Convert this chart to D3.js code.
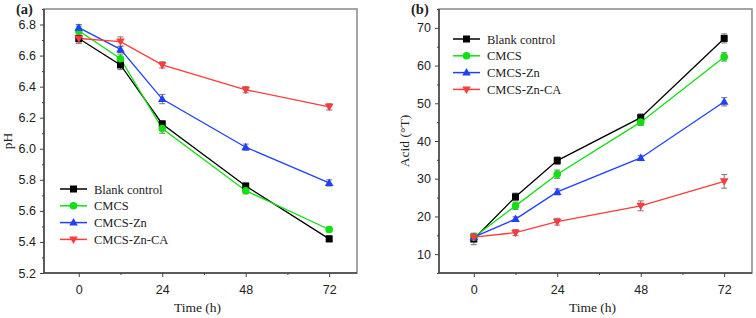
<!DOCTYPE html>
<html>
<head>
<meta charset="utf-8">
<style>
    body { margin: 0; background: #fff; }
    svg { display: block; font-family: 'Liberation Serif', 'Times New Roman', serif; }
    svg text { fill: #222; font-weight: normal; }
    .tick text { font-size: 12.5px; }
    .domain { display: none; }
</style>
</head>
<body>
<svg width="756" height="318"></svg>
<script src="https://d3js.org/d3.v7.min.js"></script>
<script>
    // time points (h)
    let times = [0, 12, 24, 48, 72]
    let seriesNames = ["Blank control", "CMCS", "CMCS-Zn", "CMCS-Zn-CA"]
    let colors = ["#000000", "#10e010", "#2040ff", "#ff3b3b"]
    let shapes = ["square", "circle", "triangle", "down"]

    // panel (a) pH
    let phBlank = [6.71, 6.54, 6.16, 5.76, 5.42]
    let phCMCS = [6.76, 6.58, 6.13, 5.73, 5.48]
    let phZn = [6.78, 6.64, 6.32, 6.01, 5.78]
    let phZnCA = [6.71, 6.69, 6.54, 6.38, 6.27]
    let phErr = [
        [0.03, 0.03, 0.02, 0.02, 0.02],
        [0.03, 0.03, 0.03, 0.02, 0.015],
        [0.02, 0.02, 0.03, 0.02, 0.02],
        [0.03, 0.03, 0.02, 0.02, 0.02]
    ]
    let phTicks = [5.2, 5.4, 5.6, 5.8, 6.0, 6.2, 6.4, 6.6, 6.8]

    // panel (b) acidity (°T)
    let acBlank = [14.0, 25.2, 34.8, 46.2, 67.2]
    let acCMCS = [14.5, 22.8, 31.2, 45.0, 62.3]
    let acZn = [14.5, 19.3, 26.5, 35.5, 50.4]
    let acZnCA = [14.5, 15.7, 18.6, 22.8, 29.3]
    let acErr = [
        [1.5, 1.0, 1.0, 1.0, 1.2],
        [1.0, 1.0, 1.1, 0.9, 1.1],
        [1.0, 0.6, 0.8, 0.7, 1.1],
        [1.0, 0.8, 0.9, 1.3, 1.8]
    ]
    let acTicks = [10, 20, 30, 40, 50, 60, 70]

    let xTicks = [0, 24, 48, 72]
    let xMinor = [12, 36, 60]

    let svg = d3.select("svg")

    function drawPanel(opt) {
        let g = svg.append("g")
        let x = d3.scaleLinear().domain([-10, 80]).range([opt.left, opt.right])
        let y = d3.scaleLinear().domain(opt.yDomain).range([273, 9])

        // frame (top + right lighter)
        g.append("rect")
            .attr("x", opt.left).attr("y", 9)
            .attr("width", opt.right - opt.left).attr("height", 264)
            .attr("fill", "none").attr("stroke", "#888").attr("stroke-width", 1.5)
        g.append("line").attr("x1", opt.left).attr("x2", opt.left).attr("y1", 9).attr("y2", 273)
            .attr("stroke", "#444").attr("stroke-width", 1.5)
        g.append("line").attr("x1", opt.left).attr("x2", opt.right).attr("y1", 273).attr("y2", 273)
            .attr("stroke", "#444").attr("stroke-width", 1.5)

        // axes
        g.append("g").attr("transform", "translate(0,273)")
            .call(d3.axisBottom(x).tickValues(xTicks).tickSize(4).tickPadding(8).tickFormat(d3.format("d")))
        g.append("g").attr("transform", "translate(0,273)")
            .call(d3.axisBottom(x).tickValues(xMinor).tickSize(2).tickFormat(""))
        g.append("g").attr("transform", `translate(${opt.left},0)`)
            .call(d3.axisLeft(y).tickValues(opt.yTicks).tickSize(4).tickPadding(4).tickFormat(opt.fmt))
        g.append("g").attr("transform", `translate(${opt.left},0)`)
            .call(d3.axisLeft(y).tickValues(opt.yMinor).tickSize(2).tickFormat(""))
        g.selectAll(".tick line").attr("stroke", "#444")
        g.selectAll(".tick text").attr("fill", "#222")

        // axis titles
        g.append("text").attr("x", (opt.left + opt.right) / 2 - 3).attr("y", 312)
            .attr("text-anchor", "middle").attr("font-size", 13.5).text("Time (h)")
        g.append("text")
            .attr("transform", `translate(${opt.yLabelX},141) rotate(-90)`)
            .attr("text-anchor", "middle").attr("font-size", 13.5).text(opt.yLabel)
        g.append("text").attr("x", opt.tagX).attr("y", 14)
            .attr("font-size", 14.5).style("font-weight", "bold").text(opt.tag)

        let line = d3.line().x((d, i) => x(times[i])).y(d => y(d))

        opt.series.forEach((vals, s) => {
            // error bars
            let eb = g.append("g")
            vals.forEach((v, i) => {
                let e = opt.err[s][i]
                let cx = x(times[i])
                eb.append("line").attr("x1", cx).attr("x2", cx)
                    .attr("y1", y(v - e)).attr("y2", y(v + e))
                    .attr("stroke", "#777").attr("stroke-width", 1)
                ;[v - e, v + e].forEach(w => {
                    eb.append("line").attr("x1", cx - 3).attr("x2", cx + 3)
                        .attr("y1", y(w)).attr("y2", y(w))
                        .attr("stroke", "#777").attr("stroke-width", 1)
                })
            })
            g.append("path").datum(vals).attr("d", line)
                .attr("fill", "none").attr("stroke", colors[s]).attr("stroke-width", 1.3)
        })
        opt.series.forEach((vals, s) => {
            vals.forEach((v, i) => marker(g, shapes[s], x(times[i]), y(v), colors[s]))
        })

        // legend
        seriesNames.forEach((name, s) => {
            let ly = opt.legY + s * 16.8
            g.append("line").attr("x1", opt.legX).attr("x2", opt.legX + 27)
                .attr("y1", ly).attr("y2", ly).attr("stroke", colors[s]).attr("stroke-width", 1.5)
            marker(g, shapes[s], opt.legX + 13.5, ly, colors[s])
            g.append("text").attr("x", opt.legX + 34).attr("y", ly + 4.5)
                .attr("font-size", 12.5).text(name)
        })
    }

    function marker(g, shape, cx, cy, color) {
        if (shape === "square") {
            g.append("rect").attr("x", cx - 3.5).attr("y", cy - 3.5).attr("width", 7).attr("height", 7).attr("fill", color)
        } else if (shape === "circle") {
            g.append("circle").attr("cx", cx).attr("cy", cy).attr("r", 3.8).attr("fill", color)
        } else if (shape === "triangle") {
            g.append("path").attr("d", `M${cx},${cy - 4.5}L${cx + 4.3},${cy + 3}L${cx - 4.3},${cy + 3}Z`).attr("fill", color)
        } else {
            g.append("path").attr("d", `M${cx},${cy + 4.5}L${cx + 4.3},${cy - 3}L${cx - 4.3},${cy - 3}Z`).attr("fill", color)
        }
    }

    drawPanel({
        left: 44, right: 357, yDomain: [5.2, 6.9],
        yTicks: phTicks, yMinor: d3.range(5.3, 6.9, 0.2).map(d => +d.toFixed(1)),
        fmt: d3.format(".1f"),
        series: [phBlank, phCMCS, phZn, phZnCA], err: phErr,
        yLabel: "pH", yLabelX: 12, tag: "(a)", tagX: 16,
        legX: 60, legY: 189
    })

    drawPanel({
        left: 439, right: 752, yDomain: [5, 75],
        yTicks: acTicks, yMinor: [5, 15, 25, 35, 45, 55, 65, 75],
        fmt: d3.format("d"),
        series: [acBlank, acCMCS, acZn, acZnCA], err: acErr,
        yLabel: "Acid (°T)", yLabelX: 409, tag: "(b)", tagX: 411,
        legX: 453, legY: 39
    })
</script>
</body>
</html>
